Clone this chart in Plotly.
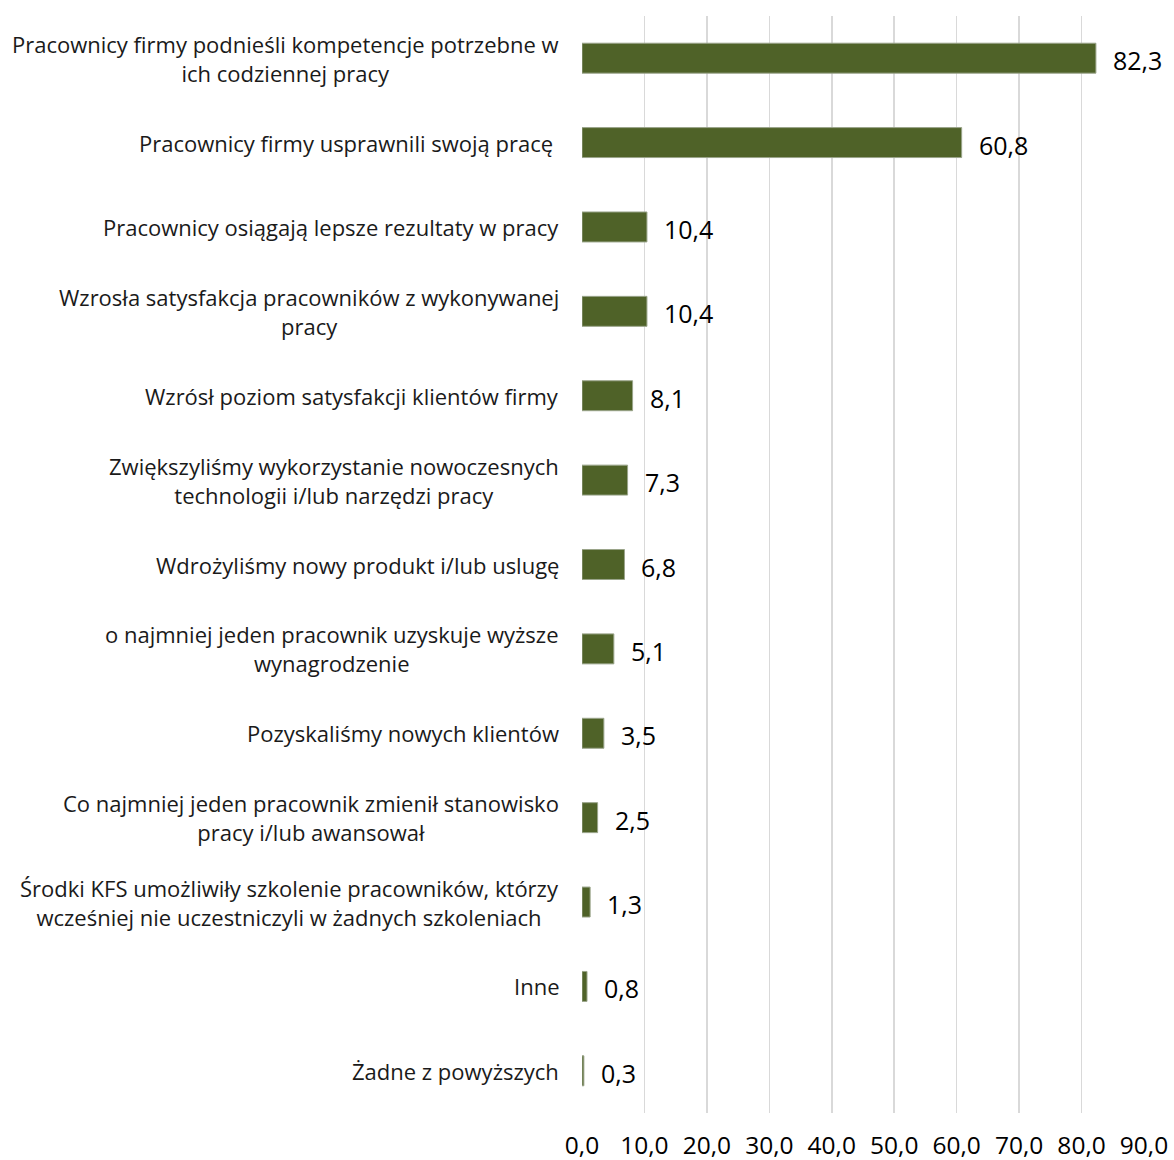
import plotly.graph_objects as go

categories = [
    "Pracownicy firmy podnieśli kompetencje potrzebne w<br>ich codziennej pracy",
    "Pracownicy firmy usprawnili swoją pracę\u00a0",
    "Pracownicy osiągają lepsze rezultaty w pracy",
    "Wzrosła satysfakcja pracowników z wykonywanej<br>pracy",
    "Wzrósł poziom satysfakcji klientów firmy",
    "Zwiększyliśmy wykorzystanie nowoczesnych<br>technologii i/lub narzędzi pracy",
    "Wdrożyliśmy nowy produkt i/lub uslugę",
    "o najmniej jeden pracownik uzyskuje wyższe<br>wynagrodzenie",
    "Pozyskaliśmy nowych klientów",
    "Co najmniej jeden pracownik zmienił stanowisko<br>pracy i/lub awansował",
    "Środki KFS umożliwiły szkolenie pracowników, którzy<br>wcześniej nie uczestniczyli w żadnych szkoleniach",
    "Inne",
    "Żadne z powyższych",
]
values = [82.3, 60.8, 10.4, 10.4, 8.1, 7.3, 6.8, 5.1, 3.5, 2.5, 1.3, 0.8, 0.3]
x_ticks = [0, 10, 20, 30, 40, 50, 60, 70, 80, 90]

FONT = "Open Sans, Liberation Sans, Arial, sans-serif"

fig = go.Figure(
    go.Bar(
        x=values,
        y=categories,
        orientation="h",
        marker=dict(color="#4f6228", line=dict(color="#9aa48a", width=1)),
        hoverinfo="skip",
    )
)

annotations = []
for cat, v in zip(categories, values):
    annotations.append(dict(
        x=0, xref="paper", y=cat, yref="y",
        text=cat, showarrow=False, xanchor="right", xshift=-21,
        align="center", font=dict(family=FONT, size=22, color="#1a1a1a"),
    ))
    annotations.append(dict(
        x=v, xref="x", y=cat, yref="y",
        text=f"{v:.1f}".replace(".", ","), showarrow=False,
        xanchor="left", xshift=15, yshift=-2,
        font=dict(family=FONT, size=25, color="#000000"),
    ))

fig.update_layout(
    width=1174, height=1160,
    margin=dict(l=582, r=30, t=16, b=47),
    paper_bgcolor="white", plot_bgcolor="white",
    separators=", ",
    bargap=0.645,
    showlegend=False,
    annotations=annotations,
    font=dict(family=FONT),
    xaxis=dict(
        range=[0, 90], tickvals=x_ticks, tickformat=".1f",
        showgrid=True, gridcolor="#d9d9d9", gridwidth=1.5,
        zeroline=False, showline=False, ticks="",
        ticklabelstandoff=15, automargin=False,
        tickfont=dict(family=FONT, size=24.5, color="#000000"),
        fixedrange=True,
    ),
    yaxis=dict(
        autorange="reversed", showticklabels=False, showgrid=False,
        zeroline=False, showline=False, ticks="", fixedrange=True,
        automargin=False,
    ),
)

fig.write_html(
    "out.html",
    config={"displayModeBar": False, "staticPlot": True},
    post_script="document.body.style.margin='0';document.body.style.overflow='hidden';",
)
